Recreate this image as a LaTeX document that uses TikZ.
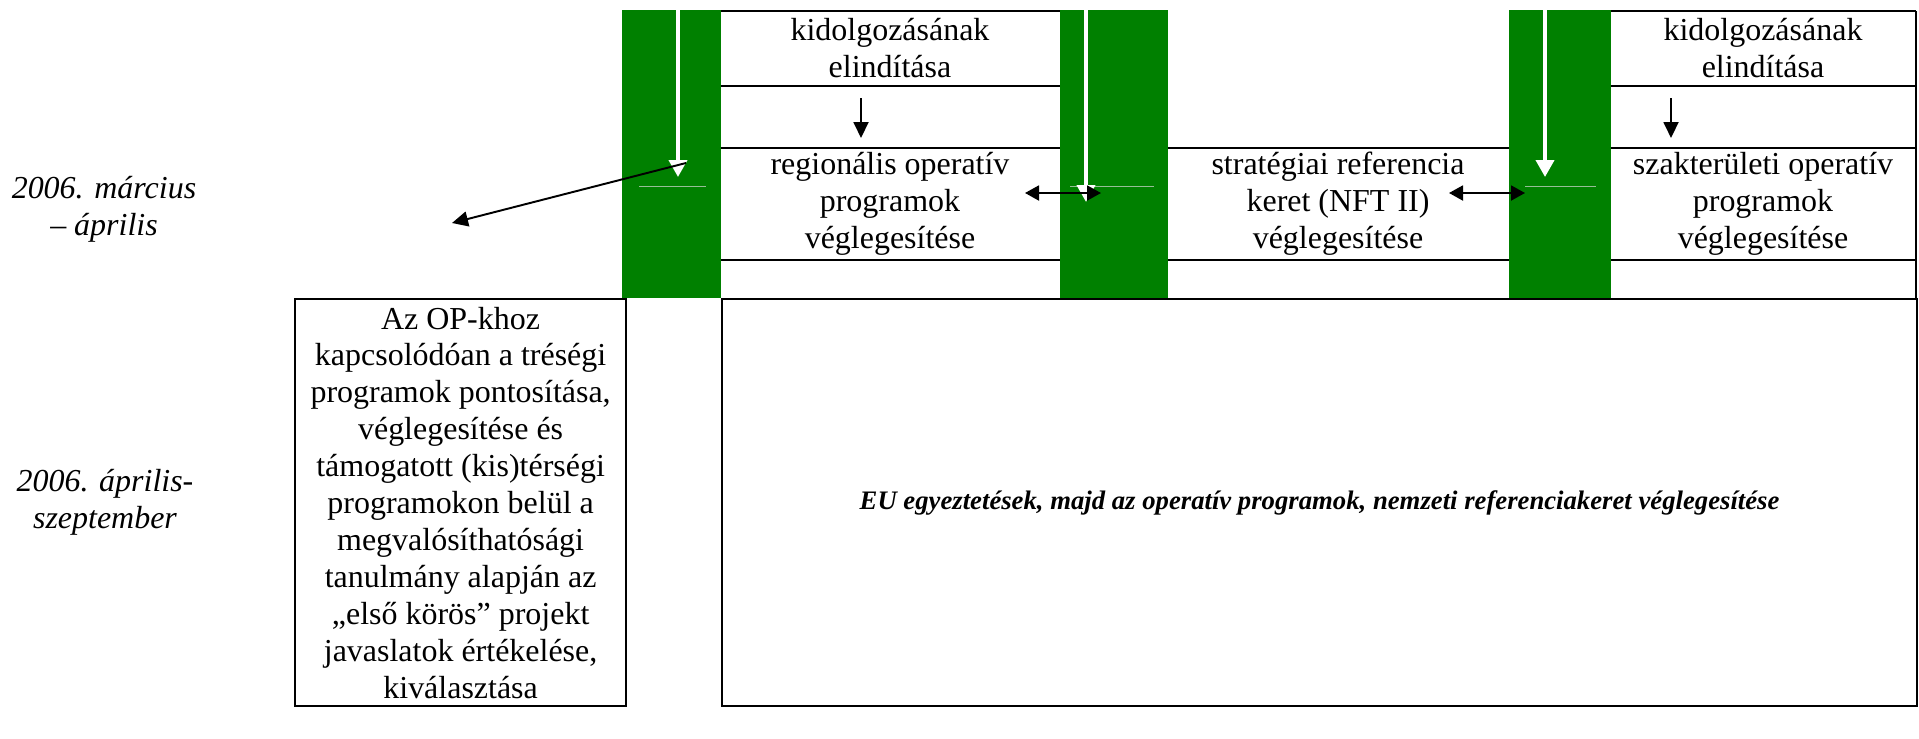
\documentclass[tikz,border=0pt]{standalone}
\usepackage{fontspec}
\setmainfont{Liberation Serif}
\usepackage{xcolor}
\usepackage{tikz}
\usetikzlibrary{arrows.meta}

\definecolor{phasegreen}{RGB}{0,128,0}
\definecolor{paleline}{RGB}{150,190,150}

\begin{document}
\begin{tikzpicture}[x=0.02cm,y=-0.02cm,
	celltext/.style={align=center,inner sep=0pt,font=\fontsize{18.2}{21}\selectfont},
	datetext/.style={align=center,inner sep=0pt,font=\itshape\fontsize{18.2}{21}\selectfont},
	rowline/.style={line width=1.3pt},
	blackarrow/.style={line width=1.1pt,-{Triangle[length=0.32cm,width=0.3cm]}},
	bothway/.style={line width=1.1pt,{Triangle[length=0.28cm,width=0.3cm]}-{Triangle[length=0.28cm,width=0.3cm]}},
	whitearrow/.style={white,line width=2.2pt,-{Triangle[length=0.34cm,width=0.36cm,fill=white]}}]

	\useasboundingbox (0,0) rectangle (1919,738);

			% horizontal row lines
			\foreach \y in {11,86,148,260} {
				\draw [rowline] (721,\y)--(1060,\y);
				\draw [rowline] (1611,\y)--(1916,\y);
			}
			\foreach \y in {148,260} \draw [rowline] (1168,\y)--(1509,\y);
			\draw [rowline] (1916,11)--(1916,298);

			% green phase columns
			\fill [phasegreen] (622,10) rectangle (721,298);
			\fill [phasegreen] (1060,10) rectangle (1168,298);
			\fill [phasegreen] (1509,10) rectangle (1611,298);

			\draw [paleline, line width=0.4pt] (639,186)--(706,186);
			\draw [paleline, line width=0.4pt] (1070,186)--(1154,186);
			\draw [paleline, line width=0.4pt] (1525,186)--(1596,186);

			\draw [whitearrow] (678,10)--(678,177);
			\draw [whitearrow] (1086,10)--(1086,202);
			\draw [whitearrow] (1545,10)--(1545,177);

			% cell texts
			\node [celltext] (startA) at (890,48) {kidolgozásának\\elindítása};
			\node [celltext] (finalA) at (890,204) {regionális operatív\\programok\\véglegesítése};
			\node [celltext] (finalB) at (1338,204) {stratégiai referencia\\keret (NFT II)\\véglegesítése};
			\node [celltext] (startC) at (1763,48) {kidolgozásának\\elindítása};
			\node [celltext] (finalC) at (1763,204) {szakterületi operatív\\programok\\véglegesítése};

			\node [datetext] (dateA) at (104,209) {2006. március\\– április};
			\node [datetext] (dateB) at (105,502) {2006. április-\\szeptember};

			\node [celltext, draw, line width=1.3pt, minimum width=6.62cm, minimum height=8.14cm, anchor=north west] (regbox) at (294,298)
				{Az OP-khoz\\kapcsolódóan a tréségi\\programok pontosítása,\\véglegesítése és\\támogatott (kis)térségi\\programokon belül a\\megvalósíthatósági\\tanulmány alapján az\\„első körös” projekt\\javaslatok értékelése,\\kiválasztása};

			\node [draw, line width=1.3pt, inner sep=0pt, minimum width=23.9cm, minimum height=8.14cm, anchor=north west,
				font=\bfseries\itshape\fontsize{15.2}{18}\selectfont] (eubox) at (721,298)
				{EU egyeztetések, majd az operatív programok, nemzeti referenciakeret véglegesítése};

			% arrows
			\coordinate (downA1) at (861,98);
			\coordinate (downA2) at (861,138);
			\coordinate (downC1) at (1671,98);
			\coordinate (downC2) at (1671,138);
			\draw [blackarrow] (downA1)--(downA2);
			\draw [blackarrow] (downC1)--(downC2);

			\coordinate (pairA1) at (1025,193);
			\coordinate (pairA2) at (1101,193);
			\coordinate (pairB1) at (1449,193);
			\coordinate (pairB2) at (1525,193);
			\draw [bothway] (pairA1)--(pairA2);
			\draw [bothway] (pairB1)--(pairB2);

			\coordinate (fromcol) at (686,163);
			\coordinate (todate) at (452,223);
			\draw [blackarrow] (fromcol)--(todate);
		\end{tikzpicture}
\end{document}
